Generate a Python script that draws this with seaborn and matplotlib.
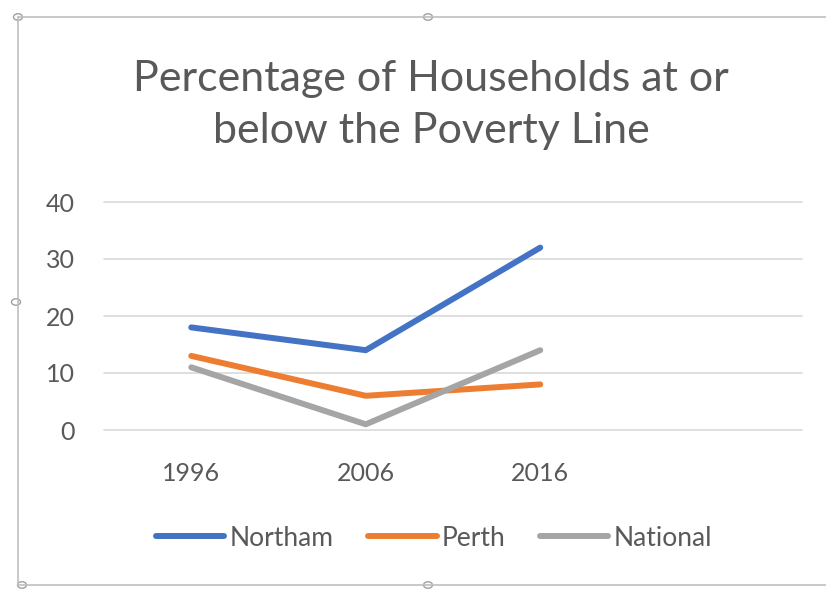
import matplotlib
matplotlib.use("Agg")
import matplotlib.pyplot as plt
import seaborn as sns
import pandas as pd
from matplotlib.lines import Line2D
from matplotlib.patches import Circle

years = ["1996", "2006", "2016"]
series_names = ["Northam", "Perth", "National"]
northam = [18, 14, 32]
perth = [13, 6, 8]
national = [11, 1, 14]
colors = ["#4472C4", "#ED7D31", "#A5A5A5"]
yticks = [0, 10, 20, 30, 40]

rows = []
for name, vals in zip(series_names, [northam, perth, national]):
    for i, v in enumerate(vals):
        rows.append({"pos": i, "year": years[i], "series": name, "value": v})
df = pd.DataFrame(rows)

sns.set_theme(style="white")
plt.rcParams["font.family"] = ["Lato", "DejaVu Sans"]
text_color = "#595959"

W, H = 826, 592
fig = plt.figure(figsize=(W / 100, H / 100), dpi=100)
fig.patch.set_facecolor("white")

def fx(x):
    return x / W

def fy(y):
    return 1 - y / H

ax = fig.add_axes([fx(104), fy(430), fx(802) - fx(104), fy(202) - fy(430)])
ax.set_facecolor("none")

sns.lineplot(data=df, x="pos", y="value", hue="series", hue_order=series_names,
             palette=colors, linewidth=4.3, ax=ax, legend=False,
             solid_capstyle="round", solid_joinstyle="round")

ax.set_xlim(-0.5, 3.5)
ax.set_ylim(0, 40)
ax.set_yticks(yticks)
ax.set_yticklabels([str(t) for t in yticks], color=text_color, fontsize=18)
ax.set_xticks(range(len(years)))
ax.set_xticklabels(years, color=text_color, fontsize=18)
ax.tick_params(axis="y", length=0, pad=21)
ax.tick_params(axis="x", length=0, pad=23)
ax.grid(axis="y", color="#D9D9D9", linewidth=1.2)
ax.grid(axis="x", visible=False)
for gl in ax.get_ygridlines():
    gl.set_clip_on(False)
for s in ax.spines.values():
    s.set_visible(False)
ax.set_xlabel("")
ax.set_ylabel("")
ax.set_axisbelow(True)

fig.text(fx(431), fy(105), "Percentage of Households at or\nbelow the Poverty Line",
         ha="center", va="center", fontsize=31, color=text_color, linespacing=1.45)

handles = [Line2D([0], [0], color=c, linewidth=4.3) for c in colors]
fig.legend(handles, series_names, loc="center", bbox_to_anchor=(fx(434), fy(538)),
           ncol=3, frameon=False, fontsize=19, handlelength=2.6, handletextpad=0.2,
           columnspacing=1.3, labelcolor=text_color)

# chart frame (selected chart outline with handles)
frame_color = "#BFBFBF"
fig.add_artist(Line2D([fx(18), fx(826)], [fy(17), fy(17)], color=frame_color, linewidth=1.2))
fig.add_artist(Line2D([fx(18), fx(826)], [fy(585), fy(585)], color=frame_color, linewidth=1.2))
fig.add_artist(Line2D([fx(18), fx(18)], [fy(17), fy(585)], color=frame_color, linewidth=1.2))
for (hx, hy) in [(18, 17), (428, 17), (16, 302), (22, 585), (428, 585)]:
    fig.add_artist(Circle((fx(hx), fy(hy)), radius=4.5 / W, transform=fig.transFigure,
                          facecolor="white", edgecolor="#A0A0A0", linewidth=1.0))

fig.savefig("out.png", dpi=100, facecolor="white")
